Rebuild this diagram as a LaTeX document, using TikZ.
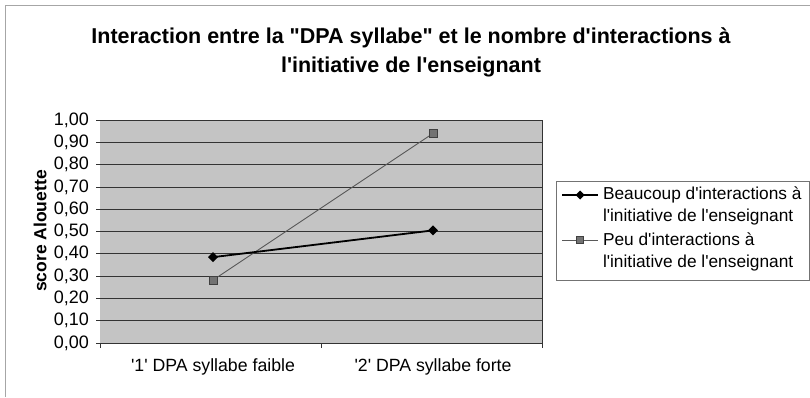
\documentclass[tikz,border=0pt]{standalone}
\usepackage{fontspec}
\setmainfont{Liberation Sans}[Ligatures=TeXOff]
\usetikzlibrary{shapes.geometric}
\begin{document}
\begin{tikzpicture}[x=1pt,y=-1pt,
  every node/.style={inner sep=0pt, outer sep=0pt},
  lbl/.style={font=\fontsize{17}{21}\selectfont},
  ticklbl/.style={font=\fontsize{18}{21}\selectfont, anchor=east},
  ttl/.style={font=\bfseries\fontsize{21.5}{29}\selectfont, align=center},
  gridline/.style={draw=black!80, line width=0.7pt},
  tickline/.style={draw=black!80, line width=0.7pt},
  seriesA/.style={draw=black, line width=1.8pt},
  seriesB/.style={draw=black!65, line width=0.9pt},
  markA/.style={diamond, fill=black, minimum width=10pt, minimum height=10pt},
  markB/.style={rectangle, draw=black!75, fill=black!55, minimum size=8pt, line width=0.6pt},
  frameline/.style={draw=black!35, line width=0.7pt}
]
\useasboundingbox (0,0) rectangle (810,397);
\fill[white] (0,0) rectangle (810,397);
% outer frame
\draw[frameline] (5,397) -- (5,5) -- (810,5);
% title
\node[ttl] (title) at (411,52) {Interaction entre la "DPA syllabe" et le nombre d'interactions à\\l'initiative de l'enseignant};
% plot area
\fill[black!23] (100,120) rectangle (542,343);
\foreach \v/\t in {0/{0,00},1/{0,10},2/{0,20},3/{0,30},4/{0,40},5/{0,50},6/{0,60},7/{0,70},8/{0,80},9/{0,90},10/{1,00}}{
  \draw[gridline] (96,{343-22.3*\v}) -- (542,{343-22.3*\v});
  \node[ticklbl] (y\v) at (89,{343-22.3*\v}) {\t};
}
\draw[gridline] (542,120) -- (542,343);
\foreach \x in {100,321,542}{ \draw[tickline] (\x,343) -- (\x,348); }
% axis labels
\node[font=\bfseries\fontsize{17.5}{21}\selectfont, rotate=90] (ylab) at (40,231) {score Alouette};
\node[lbl, font=\fontsize{17.7}{21}\selectfont] (x1) at (213,367) {'1' DPA syllabe faible};
\node[lbl, font=\fontsize{17.7}{21}\selectfont] (x2) at (433,367) {'2' DPA syllabe forte};
% data
\coordinate (a1) at (213,{343-223*0.385});
\coordinate (a2) at (433,{343-223*0.505});
\coordinate (b1) at (213,{343-223*0.282});
\coordinate (b2) at (433,{343-223*0.94});
\draw[seriesB] (b1) -- (b2);
\draw[seriesA] (a1) -- (a2);
\node[markA] (ma1) at (a1) {};
\node[markA] (ma2) at (a2) {};
\node[markB] (mb1) at (b1) {};
\node[markB] (mb2) at (b2) {};
% legend
\draw[draw=black!55, line width=0.7pt] (556,181) rectangle (809,280);
\coordinate (la0) at (562,195);
\coordinate (la2) at (598,195);
\coordinate (lb0) at (562,240);
\coordinate (lb2) at (598,240);
\draw[seriesA, line width=1.4pt] (la0) -- (la2);
\draw[seriesB] (lb0) -- (lb2);
\node[markA, minimum width=9pt, minimum height=9pt] (lma) at (580,195) {};
\node[markB, minimum size=7pt] (lmb) at (580,240) {};
\node[lbl, anchor=west, align=left, font=\fontsize{17.3}{22.5}\selectfont] (leg1) at (603,206) {Beaucoup d'interactions à\\l'initiative de l'enseignant};
\node[lbl, anchor=west, align=left, font=\fontsize{17.3}{22.5}\selectfont] (leg2) at (603,252) {Peu d'interactions à\\l'initiative de l'enseignant};
\end{tikzpicture}
\end{document}
